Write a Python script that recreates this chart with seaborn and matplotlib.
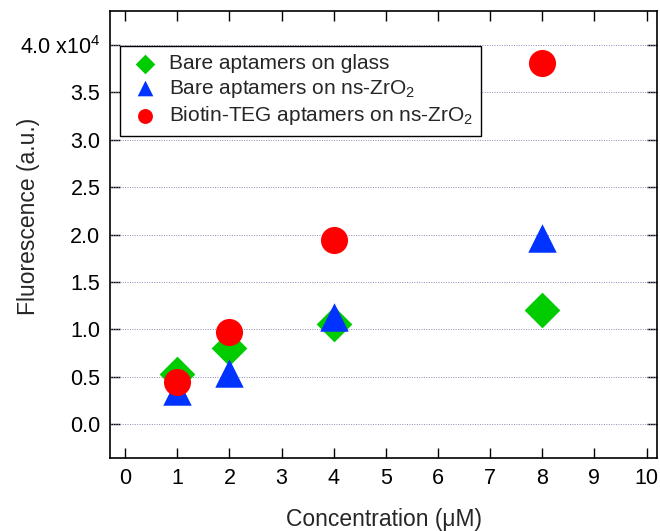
import matplotlib
matplotlib.use("Agg")
import matplotlib.pyplot as plt
import seaborn as sns
import pandas as pd

# ---- data (fluorescence in units of 1e4) ----
concentration = [1, 2, 4, 8]
glass = [0.53, 0.80, 1.05, 1.20]
zro2 = [0.35, 0.54, 1.13, 1.96]
biotin = [0.44, 0.97, 1.94, 3.81]

series_labels = ["Bare aptamers on glass",
                 "Bare aptamers on ns-ZrO$_2$",
                 "Biotin-TEG aptamers on ns-ZrO$_2$"]
x_ticks = [0, 1, 2, 3, 4, 5, 6, 7, 8, 9, 10]
y_ticks = [0.0, 0.5, 1.0, 1.5, 2.0, 2.5, 3.0, 3.5, 4.0]
y_tick_labels = ["0.0", "0.5", "1.0", "1.5", "2.0", "2.5", "3.0", "3.5", "4.0 x10$^4$"]

sns.set_style("white")
plt.rcParams['font.family'] = ['Liberation Sans', 'DejaVu Sans']
plt.rcParams['mathtext.fontset'] = 'custom'
plt.rcParams['mathtext.rm'] = 'Liberation Sans'
plt.rcParams['mathtext.it'] = 'Liberation Sans'

fig = plt.figure(figsize=(6.6, 5.31), dpi=100)
ax = fig.add_axes([110/660, 1 - 458/531, 547/660, 447/531])

styles = [("D", "#00cc00", 330), ("^", "#0033ff", 420), ("o", "#ff0000", 380)]
for vals, lab, (mk, col, s) in zip([glass, zro2, biotin], series_labels, styles):
    df = pd.DataFrame({"x": concentration, "y": vals})
    sns.scatterplot(data=df, x="x", y="y", marker=mk, color=col, s=s,
                    linewidth=0, ax=ax, label=lab, zorder=3)

ax.set_xlim(-0.29, 10.2)
ax.set_ylim(-0.36, 4.36)
ax.set_xticks(x_ticks)
ax.set_yticks(y_ticks)
ax.set_yticklabels(y_tick_labels)

for yv in y_ticks:
    ax.axhline(yv, color="#8a8ab8", linestyle=(0, (1, 1.5)), linewidth=0.7, zorder=1)

ax.tick_params(axis="both", direction="in", length=7, width=1.0, labelsize=15.5,
               color="black", labelcolor="black", pad=7)
ax.tick_params(axis="x", top=True, bottom=True)
ax.tick_params(axis="y", left=True, right=True)
for sp in ax.spines.values():
    sp.set_visible(True)
    sp.set_color("black")
    sp.set_linewidth(1.2)

ax.set_xlabel("Concentration (\u03bcM)", fontsize=16.5, labelpad=14)
ax.set_ylabel("Fluorescence (a.u.)", fontsize=16.5)
ax.yaxis.set_label_coords(-0.128, 0.54)

leg = ax.legend(loc="upper left", bbox_to_anchor=(0.018, 0.922), fontsize=15,
                frameon=True, fancybox=False, edgecolor="black", framealpha=1,
                handletextpad=0.35, borderpad=0.4, labelspacing=0.22,
                markerscale=0.55, handlelength=1.6, borderaxespad=0)
leg.get_frame().set_linewidth(1.0)

fig.savefig("out.png", dpi=100)
